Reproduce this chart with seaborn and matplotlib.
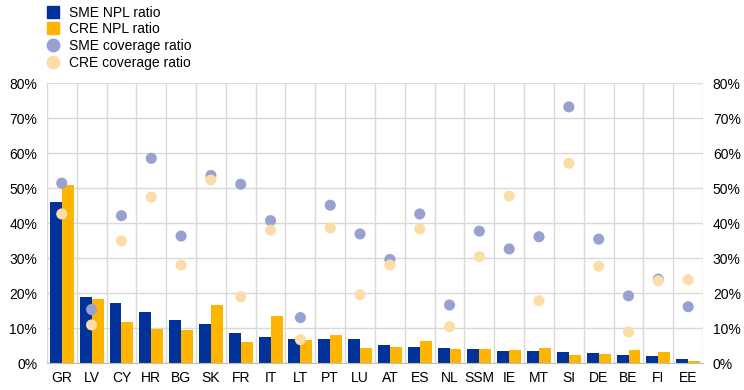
import numpy as np
import pandas as pd
import matplotlib
matplotlib.use("Agg")
import matplotlib.pyplot as plt
from matplotlib.lines import Line2D
from matplotlib.ticker import FixedLocator, PercentFormatter
import seaborn as sns

# data (percent)
countries = ["GR", "LV", "CY", "HR", "BG", "SK", "FR", "IT", "LT", "PT", "LU",
             "AT", "ES", "NL", "SSM", "IE", "MT", "SI", "DE", "BE", "FI", "EE"]
sme_npl = [46.0, 19.0, 17.2, 14.6, 12.3, 11.2, 8.6, 7.4, 6.9, 6.9, 6.9,
           5.2, 4.6, 4.3, 4.0, 3.5, 3.5, 3.2, 2.9, 2.3, 2.0, 1.2]
cre_npl = [50.8, 18.4, 11.7, 9.7, 9.4, 16.6, 6.0, 13.5, 6.6, 8.1, 4.3,
           4.6, 6.3, 4.0, 4.0, 3.8, 4.3, 2.3, 2.6, 3.8, 3.2, 0.6]
sme_cov = [51.4, 15.3, 42.1, 58.5, 36.3, 53.6, 51.1, 40.7, 13.0, 45.1, 36.9,
           29.6, 42.6, 16.6, 37.7, 32.6, 36.1, 73.2, 35.4, 19.2, 24.0, 16.1]
cre_cov = [42.6, 10.9, 34.9, 47.4, 28.0, 52.3, 18.9, 38.0, 6.7, 38.6, 19.5,
           28.0, 38.3, 10.4, 30.4, 47.7, 17.8, 57.1, 27.7, 8.9, 23.5, 23.8]

BLUE = "#003299"
YELLOW = "#FFB400"
LBLUE = "#98A1D0"
LYELLOW = "#FDDDA7"

bars = pd.DataFrame({
    "country": countries * 2,
    "value": sme_npl + cre_npl,
    "series": ["SME NPL ratio"] * len(countries) + ["CRE NPL ratio"] * len(countries),
})
dots = pd.DataFrame({
    "country": countries * 2,
    "value": sme_cov + cre_cov,
    "series": ["SME coverage ratio"] * len(countries) + ["CRE coverage ratio"] * len(countries),
})

plt.rcParams["font.family"] = ["Liberation Sans", "DejaVu Sans"]

fig = plt.figure(figsize=(7.44, 3.9), dpi=100)
ax = fig.add_axes([0.063, 0.069, 0.882, 0.718])

sns.barplot(data=bars, x="country", y="value", hue="series", order=countries,
            palette=[BLUE, YELLOW], saturation=1, width=0.8, linewidth=0,
            legend=False, ax=ax, zorder=2)
sns.stripplot(data=dots, x="country", y="value", hue="series", order=countries,
              palette=[LBLUE, LYELLOW], jitter=False, dodge=False, size=8.0,
              linewidth=0, legend=False, ax=ax, zorder=3)

ax.set_xlim(-0.5, len(countries) - 0.5)
ax.set_ylim(0, 80)
ax.set_yticks(np.arange(0, 81, 10))
ax.yaxis.set_major_formatter(PercentFormatter(decimals=0))
# vertical grid lines between the countries
ax.xaxis.set_minor_locator(FixedLocator(np.arange(-0.5, len(countries), 1)))
ax.grid(which="minor", axis="x", color="#d9d9d9", linewidth=1)
ax.grid(which="major", axis="y", color="#d9d9d9", linewidth=1)
ax.grid(which="major", axis="x", visible=False)
ax.set_axisbelow(True)
for s in ax.spines.values():
    s.set_visible(False)
ax.spines["bottom"].set_visible(True)
ax.spines["bottom"].set_color("#bfbfbf")
ax.tick_params(axis="both", which="both", length=0, labelsize=10, colors="#000000")
ax.tick_params(axis="y", labelright=True, pad=7)
ax.tick_params(axis="x", pad=6)
ax.set_xlabel("")
ax.set_ylabel("")

handles = [
    Line2D([], [], marker="s", linestyle="", color=BLUE, markersize=9),
    Line2D([], [], marker="s", linestyle="", color=YELLOW, markersize=9),
    Line2D([], [], marker="o", linestyle="", color=LBLUE, markersize=9),
    Line2D([], [], marker="o", linestyle="", color=LYELLOW, markersize=9),
]
labels = ["SME NPL ratio", "CRE NPL ratio", "SME coverage ratio", "CRE coverage ratio"]
fig.legend(handles, labels, loc="upper left", bbox_to_anchor=(0.055, 1.0),
           frameon=False, fontsize=10, handlelength=1.0, handletextpad=0.6,
           labelspacing=0.2, borderaxespad=0)

fig.savefig("out.png", dpi=100)
